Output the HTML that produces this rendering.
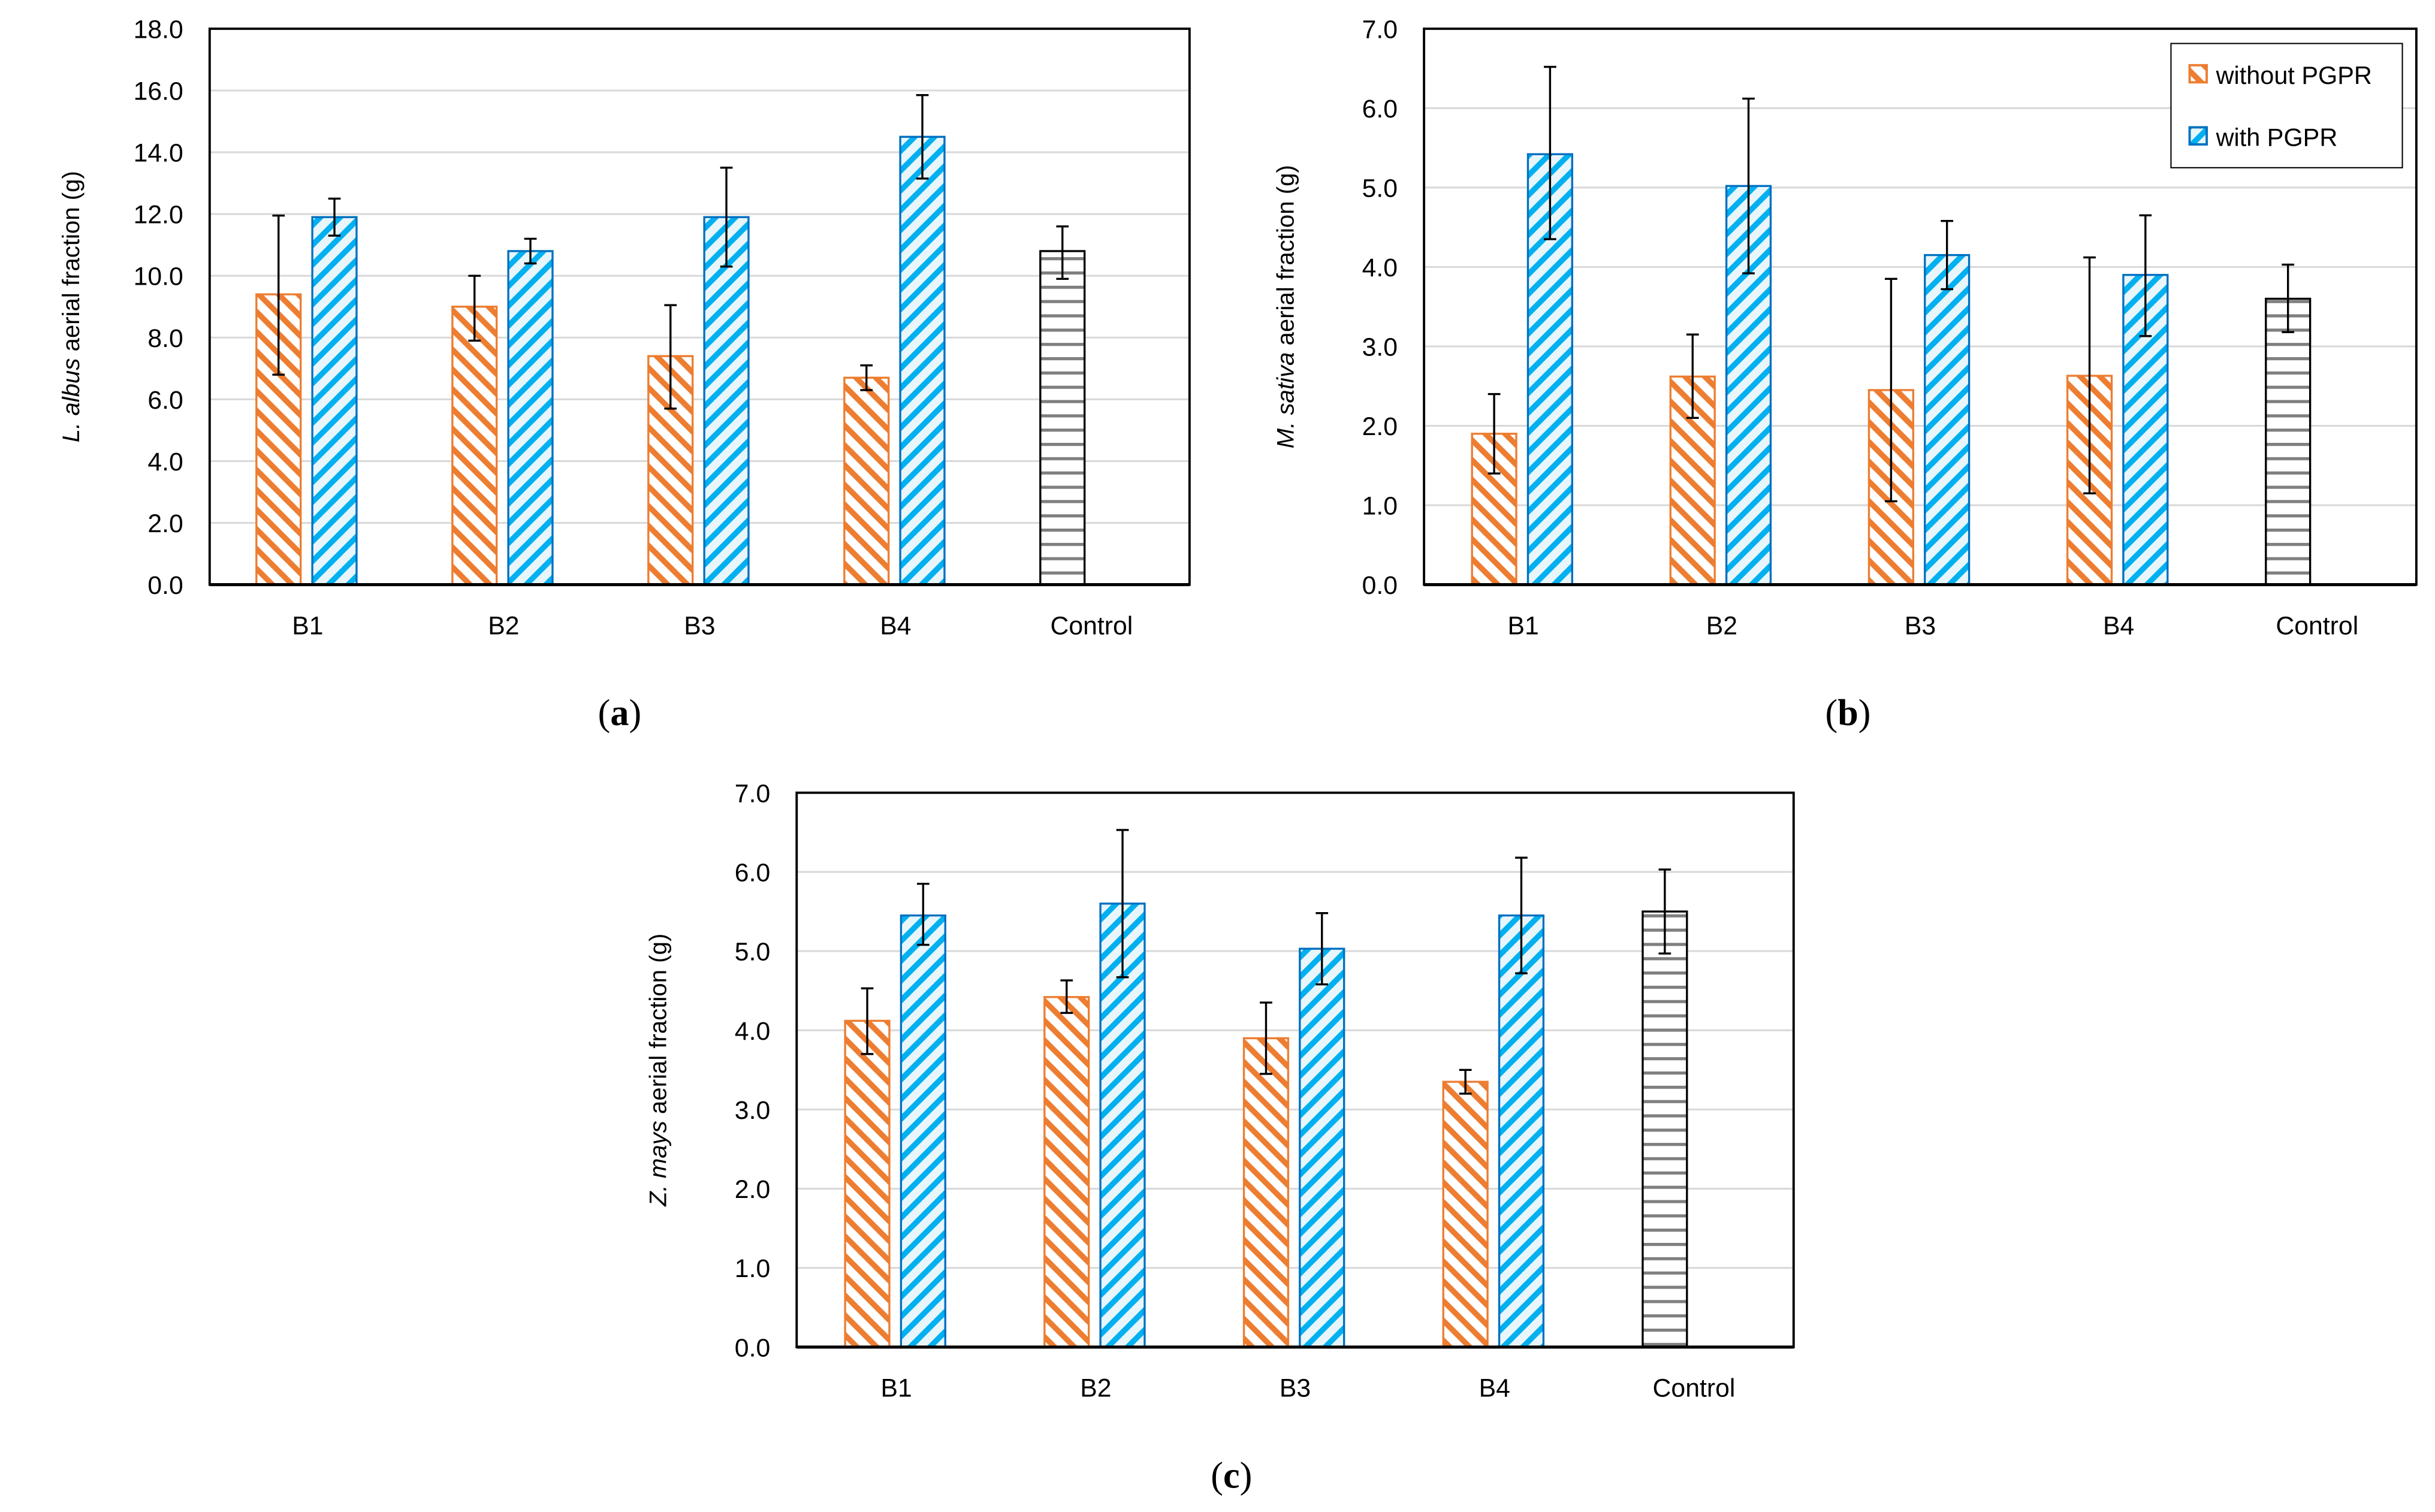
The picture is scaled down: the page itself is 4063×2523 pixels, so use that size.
<!DOCTYPE html>
<html><head><meta charset="utf-8"><style>
html,body{margin:0;padding:0;background:#fff;}
svg{display:block;font-family:"Liberation Sans",sans-serif;}
</style></head><body>
<svg id="fig" width="4063" height="2523" viewBox="0 0 1568 973.7" xmlns="http://www.w3.org/2000/svg">
<defs>
<pattern id="pOr" patternUnits="userSpaceOnUse" width="9" height="9" patternTransform="rotate(-45)">
<rect width="9" height="9" fill="#fff"/><rect width="3.6" height="9" fill="#ed7d31"/></pattern>
<pattern id="pBl" patternUnits="userSpaceOnUse" width="9" height="9" patternTransform="rotate(45)">
<rect width="9" height="9" fill="#e8f6fc"/><rect width="3.6" height="9" fill="#00b0f0"/></pattern>
<pattern id="pGr" patternUnits="userSpaceOnUse" width="9" height="9.2">
<rect width="9" height="9.2" fill="#fff"/><rect y="0" width="9" height="2" fill="#7f7f7f"/></pattern>
</defs>
<g id="charts"></g>
</svg>
<script>
const categories = ["B1","B2","B3","B4","Control"];
// chart a
const aWithout = [9.4, 9.0, 7.4, 6.7];
const aWithoutLo = [6.8, 7.9, 5.7, 6.3];
const aWithoutHi = [11.95, 10.0, 9.05, 7.1];
const aWith = [11.9, 10.8, 11.9, 14.5];
const aWithLo = [11.3, 10.4, 10.3, 13.15];
const aWithHi = [12.5, 11.2, 13.5, 15.85];
const aControl = [10.8];
const aControlLo = [9.9];
const aControlHi = [11.6];
const aTicks = ["0.0","2.0","4.0","6.0","8.0","10.0","12.0","14.0","16.0","18.0"];
// chart b
const bWithout = [1.9, 2.62, 2.45, 2.63];
const bWithoutLo = [1.4, 2.1, 1.05, 1.15];
const bWithoutHi = [2.4, 3.15, 3.85, 4.12];
const bWith = [5.42, 5.02, 4.15, 3.9];
const bWithLo = [4.35, 3.92, 3.72, 3.13];
const bWithHi = [6.52, 6.12, 4.58, 4.65];
const bControl = [3.6];
const bControlLo = [3.18];
const bControlHi = [4.03];
const bTicks = ["0.0","1.0","2.0","3.0","4.0","5.0","6.0","7.0"];
// chart c
const cWithout = [4.12, 4.42, 3.9, 3.35];
const cWithoutLo = [3.7, 4.22, 3.45, 3.2];
const cWithoutHi = [4.53, 4.63, 4.35, 3.5];
const cWith = [5.45, 5.6, 5.03, 5.45];
const cWithLo = [5.08, 4.67, 4.58, 4.72];
const cWithHi = [5.85, 6.53, 5.48, 6.18];
const cControl = [5.5];
const cControlLo = [4.97];
const cControlHi = [6.03];
const cTicks = bTicks;

const NS = "http://www.w3.org/2000/svg";
const root = document.getElementById("charts");
function mk(tag, attrs, parent, text){
  const e = document.createElementNS(NS, tag);
  for (const k in attrs) e.setAttribute(k, attrs[k]);
  if (text !== undefined) e.textContent = text;
  parent.appendChild(e);
  return e;
}
function drawChart(id, L, R, T, B, ticks, wo, woLo, woHi, wi, wiLo, wiHi, ct, ctLo, ctHi, italic, rest, caption, capX, capY, legend){
  const g = mk("g", {}, root);
  
  
  const max = parseFloat(ticks[ticks.length-1]);
  const y = v => B - (v / max) * (B - T);
  const step = (R - L) / categories.length;
  const cx = i => L + step * (i + 0.5);
  const bw = 28.5;
  ticks.forEach((t) => {
    const v = parseFloat(t);
    if (v > 0 && v < max) {
      const gl = mk("line", {x1:L, x2:R, y1:y(v), y2:y(v), stroke:"#d9d9d9", "stroke-width":1.2}, g);
      
      
    }
    const tl = mk("text", {x:L-17, y:y(v)+6, "text-anchor":"end", "font-size":16.5, fill:"#000"}, g, t);
    
    
  });
  function bar(x, v, fill, stroke, lo, hi, name){
    const r = mk("rect", {x:x, y:y(v), width:bw, height:B-y(v), fill:fill, stroke:stroke, "stroke-width":1.3}, g);
    
    
    const ex = x + bw/2;
    const eb = mk("path", {d:`M${ex},${y(lo)}V${y(hi)}M${ex-4},${y(lo)}H${ex+4}M${ex-4},${y(hi)}H${ex+4}`, stroke:"#000", "stroke-width":1.3, fill:"none"}, g);
    
    
  }
  for (let i = 0; i < wo.length; i++) {
    bar(cx(i) - 33, wo[i], "url(#pOr)", "#ed7d31", woLo[i], woHi[i], 'bar-without-' + categories[i].toLowerCase());
    bar(cx(i) + 3, wi[i], "url(#pBl)", "#0070c0", wiLo[i], wiHi[i], 'bar-with-' + categories[i].toLowerCase());
  }
  bar(cx(4) - 33, ct[0], "url(#pGr)", "#000", ctLo[0], ctHi[0], 'bar-control');
  categories.forEach((c, i) => {
    const cl = mk("text", {x:cx(i), y:B+32, "text-anchor":"middle", "font-size":16.5}, g, c);
    
    
  });
  const frame = mk("rect", {x:L, y:T, width:R-L, height:B-T, fill:"none", stroke:"#000", "stroke-width":1.5}, g);
  
  
  const ax = mk("line", {x1:L, x2:R, y1:B, y2:B, stroke:"#000", "stroke-width":2}, g);
  
  
  const yt = mk("text", {transform:`translate(${L-84},${(T+B)/2}) rotate(-90)`, "text-anchor":"middle", "font-size":15.5}, g);
  
  
  mk("tspan", {"font-style":"italic"}, yt, italic);
  mk("tspan", {}, yt, rest);
  const cap = mk("text", {x:capX, y:capY, "text-anchor":"middle", "font-size":24, "font-family":"Liberation Serif, serif"}, g);
  
  
  mk("tspan", {}, cap, "(");
  mk("tspan", {"font-weight":"bold"}, cap, caption);
  mk("tspan", {}, cap, ")");
  if (legend) {
    const lg = mk("g", {}, g);
    
    
    mk("rect", {x:1398, y:28, width:149, height:80, fill:"#fff", stroke:"#000", "stroke-width":0.8}, lg);
    const e1 = mk("rect", {x:1410, y:42, width:11, height:11, fill:"url(#pOr)", stroke:"#ed7d31", "stroke-width":1.5}, lg);
    
    
    const t1 = mk("text", {x:1427, y:54, "font-size":16}, lg, "without PGPR");
    
    
    const e2 = mk("rect", {x:1410, y:82, width:11, height:11, fill:"url(#pBl)", stroke:"#0070c0", "stroke-width":1.5}, lg);
    
    
    const t2 = mk("text", {x:1427, y:94, "font-size":16}, lg, "with PGPR");
    
    
  }
}
drawChart("a", 135, 766, 18.5, 376.5, aTicks, aWithout, aWithoutLo, aWithoutHi, aWith, aWithLo, aWithHi, aControl, aControlLo, aControlHi, "L. albus", " aerial fraction (g)", "a", 399, 467, false);
drawChart("b", 917, 1556, 18.5, 376.5, bTicks, bWithout, bWithoutLo, bWithoutHi, bWith, bWithLo, bWithHi, bControl, bControlLo, bControlHi, "M. sativa", " aerial fraction (g)", "b", 1190, 467, true);
drawChart("c", 513, 1155, 510.5, 867.5, cTicks, cWithout, cWithoutLo, cWithoutHi, cWith, cWithLo, cWithHi, cControl, cControlLo, cControlHi, "Z. mays", " aerial fraction (g)", "c", 793, 958, false);
</script>
</body></html>
